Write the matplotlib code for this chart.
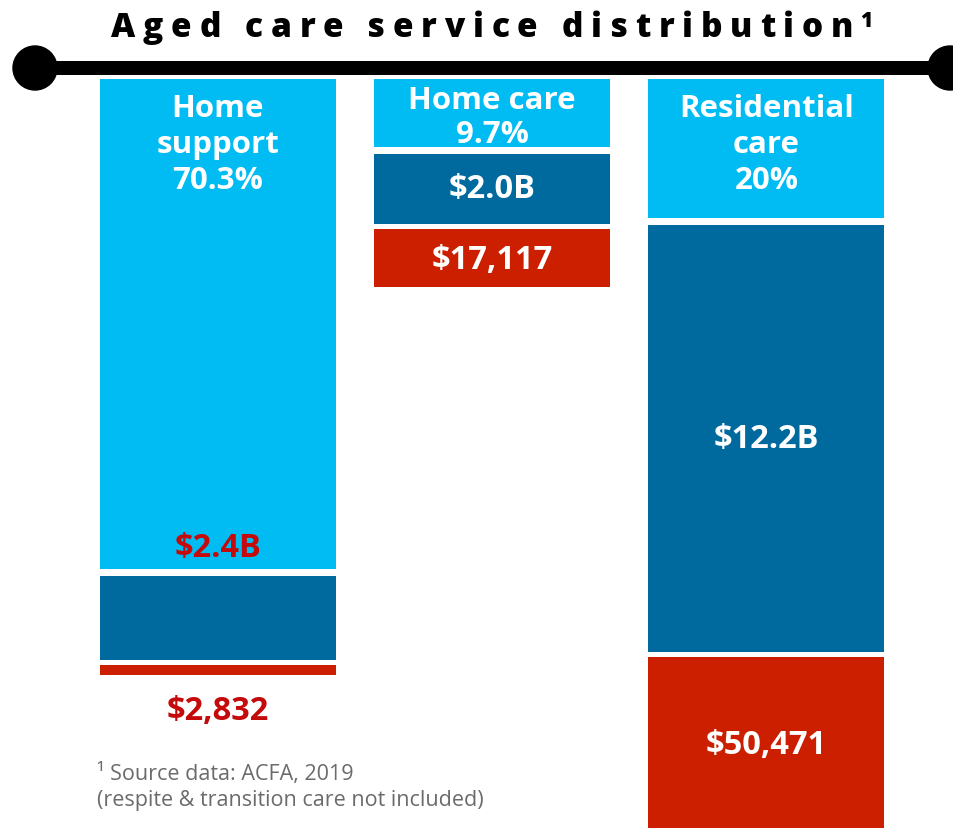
import matplotlib.pyplot as plt
from matplotlib.patches import Circle

# colours
LIGHT = "#00BCF2"
DARK = "#00699D"
RED = "#CC1F00"
RED_TXT = "#C40A0A"
GRAY = "#6B6B6B"

FONT = "Open Sans"

# data
services = ["Home\nsupport", "Home care", "Residential\ncare"]
share_pct = [70.3, 9.7, 20.0]
funding_b = [2.4, 2.0, 12.2]
cost_per_person = [2832, 17117, 50471]

# layout (pixel units)
W, H = 954, 829
X_CENTERS = [218, 492, 766.5]
BAR_W = 236
TOP = 80
GAP1, GAP2 = 7, 5
PX_PER_PCT = 6.97
PX_PER_B = 35.0
PX_PER_DOLLAR = 0.00342

fig = plt.figure(figsize=(W / 100, H / 100), dpi=100)
ax = fig.add_axes([0, 0, 1, 1])
ax.set_xlim(0, W)
ax.set_ylim(H, 0)
ax.axis("off")

# hanging rail
ax.plot([35, 950], [69, 69], color="black", lw=14 * 0.72, solid_capstyle="butt", zorder=3)
for cx in (35, 950):
    ax.add_patch(Circle((cx, 69), 22, color="black", zorder=4))

# stacked segments, hanging downward
h_share = [v * PX_PER_PCT for v in share_pct]
h_fund = [v * PX_PER_B for v in funding_b]
h_cost = [v * PX_PER_DOLLAR for v in cost_per_person]

b_share = [TOP] * 3
b_fund = [TOP + h + GAP1 for h in h_share]
b_cost = [b + h + GAP2 for b, h in zip(b_fund, h_fund)]

ax.bar(X_CENTERS, h_share, bottom=b_share, width=BAR_W, color=LIGHT, align="center")
ax.bar(X_CENTERS, h_fund, bottom=b_fund, width=BAR_W, color=DARK, align="center")
ax.bar(X_CENTERS, h_cost, bottom=b_cost, width=BAR_W, color=RED, align="center")

head = dict(family=FONT, fontweight="bold", fontsize=22.5, ha="center")
val = dict(family=FONT, fontweight="bold", fontsize=23.5, ha="center")

for i, x in enumerate(X_CENTERS):
    lines = services[i].split("\n") + [f"{share_pct[i]:g}%"]
    step = 36 if len(lines) == 3 else 34
    first = 37 if len(lines) == 3 else 29
    for j, line in enumerate(lines):
        ax.text(x, TOP + first + j * step, line, color="white", va="baseline", **head)

    fund_txt = f"${funding_b[i]:.1f}B"
    cost_txt = f"${cost_per_person[i]:,}"
    if h_fund[i] > 60 and i > 0:
        ax.text(x, b_fund[i] + h_fund[i] / 2, fund_txt, color="white", va="center", **val)
    else:
        ax.text(x, b_share[i] + h_share[i] - 13, fund_txt, color=RED_TXT, va="baseline", **val)
    if h_cost[i] > 40:
        vis_end = min(b_cost[i] + h_cost[i], H)
        ax.text(x, (b_cost[i] + vis_end) / 2 + 2, cost_txt, color="white", va="center", **val)
    else:
        ax.text(x, b_cost[i] + h_cost[i] + 36, cost_txt, color=RED_TXT, va="center", **val)

# title with wide letter spacing
def tracked(s, x0, x1, y, **kw):
    r = fig.canvas.get_renderer()

    def width(t):
        tt = ax.text(0, 0, t, **kw)
        w = tt.get_window_extent(r).width
        tt.remove()
        return w

    bar = width("|")
    starts = [0] + [width(s[:i] + "|") - bar for i in range(1, len(s))]
    track = (x1 - x0 - width(s)) / (len(s) - 1)
    for i, ch in enumerate(s):
        ax.text(x0 + starts[i] + i * track, y, ch, ha="left", va="baseline", **kw)

title_kw = dict(family=FONT, fontweight=800, fontsize=24, color="black")
tracked("Aged care service distribution", 111, 853, 37, **title_kw)
ax.text(860, 27, "1", family=FONT, fontweight=800, fontsize=15, ha="left", va="baseline")

# footnote
foot = dict(family=FONT, fontsize=15.5, color=GRAY, ha="left", va="baseline")
ax.text(97, 780, "\u00b9 Source data: ACFA, 2019", **foot)
ax.text(97, 806, "(respite & transition care not included)", **foot)

fig.savefig("out.png", dpi=100)
